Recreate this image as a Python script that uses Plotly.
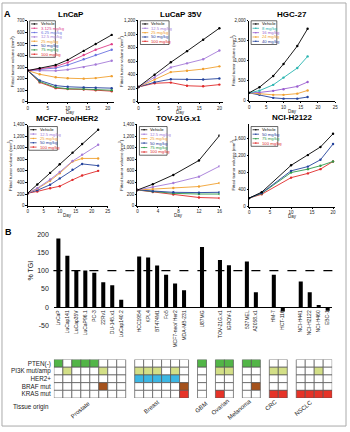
import plotly.graph_objects as go

W, H = 350, 432
def fx(px): return px / W
def fy(py): return 1 - py / H

FONT = "Liberation Sans, Arial, sans-serif"

# ---------------- Panel A data ----------------
lncap_days = [0, 3, 7, 10, 14, 17, 21]
lncap_vehicle = [270, 290, 318, 362, 440, 500, 578]
lncap_3125 = [270, 283, 305, 340, 405, 450, 498]
lncap_625 = [270, 278, 292, 318, 368, 405, 450]
lncap_125 = [270, 268, 268, 278, 300, 322, 355]
lncap_25 = [270, 238, 212, 204, 200, 205, 222]
lncap_50 = [270, 185, 140, 130, 125, 122, 118]
lncap_75 = [270, 175, 125, 113, 110, 106, 100]
lncap_100 = [270, 168, 118, 110, 107, 100, 92]

lucap_days = [0, 4, 8, 12, 16, 20]
lucap_vehicle = [220, 400, 585, 750, 920, 1090]
lucap_125 = [220, 360, 510, 570, 630, 760]
lucap_25 = [220, 330, 440, 460, 485, 525]
lucap_50 = [220, 290, 335, 330, 330, 345]
lucap_100 = [220, 275, 285, 238, 230, 255]

hgc_days = [0, 3, 7, 10, 14, 17]
hgc_vehicle = [200, 340, 620, 920, 1370, 1800]
hgc_8 = [200, 255, 400, 580, 820, 1110]
hgc_16 = [200, 210, 250, 290, 360, 470]
hgc_24 = [200, 175, 150, 150, 180, 260]
hgc_40 = [200, 150, 75, 55, 55, 95]

mcf7_days = [0, 3, 7, 10, 14, 17, 22]
mcf7_vehicle = [215, 365, 565, 715, 915, 1065, 1310]
mcf7_125 = [215, 300, 450, 580, 770, 880, 1050]
mcf7_25 = [215, 290, 430, 560, 760, 815, 815]
mcf7_50 = [215, 265, 360, 470, 620, 720, 690]
mcf7_100 = [215, 245, 300, 335, 445, 520, 600]

tov_days = [0, 3, 7, 12, 16]
tov_vehicle = [270, 370, 530, 780, 1210]
tov_125 = [270, 320, 390, 500, 680]
tov_25 = [270, 285, 305, 330, 390]
tov_50 = [270, 250, 230, 225, 230]
tov_75 = [270, 245, 212, 200, 200]
tov_100 = [270, 235, 190, 140, 130]

h2122_days = [0, 3, 10, 14, 17, 20]
h2122_vehicle = [200, 340, 970, 1210, 1400, 1710]
h2122_50 = [200, 320, 840, 940, 1100, 1470]
h2122_75 = [200, 310, 800, 880, 960, 1060]
h2122_100 = [200, 290, 680, 780, 880, 1060]

# ---------------- Panel B data ----------------
cell_lines = ["LnCaP", "LuCap141", "LuCap35V", "LuCaP96.1", "PC-3", "22Rv1", "DU-145.x1", "LuCap140.2",
              "HCC1954", "KPL4", "BT474M1", "Fo5", "MCF7-neo/ Her2", "MDA-MB-231",
              "U87MG", "TOV-21G.x1", "IGROV-1", "537MEL", "A2058.x1", "HM-7", "HCT-116",
              "NCI-H441", "NCI-H2122", "NCI-H460", "EBC-1"]
tgi_values = [188, 141, 101, 100, 94, 68, 60, 20,
              139, 136, 114, 89, 65, 46,
              165, 129, 115, 125, 41, 89, -12,
              70, 41, 6, -10]
tissue_groups = ["Prostate", "Breast", "GBM", "Ovarian", "Melanoma", "CRC", "NSCLC"]
group_sizes = [8, 6, 1, 2, 2, 2, 4]
tgi_ticks = [-50, 0, 50, 100, 150, 200]
tgi_ticktext = ["-50", "0", "50", "100", "150", "200"]

row_labels = ["PTEN(-)", "PI3K mut/amp", "HER2+", "BRAF mut", "KRAS mut"]
pten = [1, 0, 1, 1, 1, 0, 0, 0, 0, 0, 0, 0, 0, 0, 1, 1, 1, 1, 1, 0, 0, 0, 0, 0, 0]
pi3k = [0, 1, 0, 0, 0, 1, 0, 0, 1, 1, 1, 0, 1, 0, 0, 1, 1, 0, 0, 1, 1, 0, 0, 1, 0]
her2 = [0, 0, 0, 0, 0, 0, 0, 0, 1, 1, 1, 1, 1, 0, 0, 0, 0, 0, 0, 0, 0, 0, 0, 0, 0]
braf = [0, 0, 0, 0, 0, 1, 0, 0, 0, 0, 0, 0, 0, 1, 0, 0, 0, 0, 1, 0, 0, 0, 0, 0, 0]
kras = [0, 0, 0, 0, 0, 0, 0, 0, 0, 0, 0, 0, 0, 1, 0, 1, 0, 0, 0, 1, 1, 1, 1, 1, 1]

# ---------------- styles ----------------
C_VEH = "#000000"
C_3125 = "#e0408a"
C_625 = "#6a72e0"
C_125 = "#a57ad8"
C_25 = "#f0a030"
C_50 = "#24439c"
C_75 = "#2e9a4a"
C_100 = "#e02a2a"
C_8 = "#28b4b0"
C_16 = "#9b5fd0"

panels = [
    dict(title="LnCaP", days=lncap_days,
         series=[("Vehicle", lncap_vehicle, C_VEH), ("3.125 mg/kg", lncap_3125, C_3125),
                 ("6.25 mg/kg", lncap_625, C_625), ("12.5 mg/kg", lncap_125, C_125),
                 ("25 mg/kg", lncap_25, C_25), ("50 mg/kg", lncap_50, C_50),
                 ("75 mg/kg", lncap_75, C_75), ("100 mg/kg", lncap_100, C_100)],
         px=(27, 114), py=(19, 101), xr=[0, 21.5], xt=[0, 5, 10, 15, 20],
         yr=[0, 700], yt=list(range(0, 701, 100)), leg=(29, 19, 55, 56), ytx=12),
    dict(title="LuCaP 35V", days=lucap_days,
         series=[("Vehicle", lucap_vehicle, C_VEH), ("12.5 mg/kg", lucap_125, C_125),
                 ("25 mg/kg", lucap_25, C_25), ("50 mg/kg", lucap_50, C_50),
                 ("100 mg/kg", lucap_100, C_100)],
         px=(139, 225), py=(19, 101), xr=[0, 21], xt=[0, 5, 10, 15, 20],
         yr=[0, 1200], yt=list(range(0, 1201, 200)), leg=(141, 19, 170, 43), ytx=122),
    dict(title="HGC-27", days=hgc_days,
         series=[("Vehicle", hgc_vehicle, C_VEH), ("8 mg/kg", hgc_8, C_8),
                 ("16 mg/kg", hgc_16, C_16), ("24 mg/kg", hgc_24, C_25),
                 ("40 mg/kg", hgc_40, C_50)],
         px=(251, 338), py=(19, 100), xr=[0, 25], xt=[0, 5, 10, 15, 20, 25],
         yr=[0, 2000], yt=list(range(0, 2001, 500)), leg=(253, 19, 279, 43), ytx=235),
    dict(title="MCF7-neo/HER2", days=mcf7_days,
         series=[("Vehicle", mcf7_vehicle, C_VEH), ("12.5 mg/kg", mcf7_125, C_125),
                 ("25 mg/kg", mcf7_25, C_25), ("50 mg/kg", mcf7_50, C_50),
                 ("100 mg/kg", mcf7_100, C_100)],
         px=(27, 108), py=(124, 206), xr=[0, 25], xt=[0, 5, 10, 15, 20, 25],
         yr=[0, 1400], yt=list(range(0, 1401, 200)), leg=(28, 126, 57, 150), ytx=9),
    dict(title="TOV-21G.x1", days=tov_days,
         series=[("Vehicle", tov_vehicle, C_VEH), ("12.5 mg/kg", tov_125, C_125),
                 ("25 mg/kg", tov_25, C_25), ("50 mg/kg", tov_50, C_50),
                 ("75 mg/kg", tov_75, C_75), ("100 mg/kg", tov_100, C_100)],
         px=(138, 221), py=(124, 206), xr=[0, 16], xt=[0, 4, 8, 12, 16],
         yr=[0, 1400], yt=list(range(0, 1401, 200)), leg=(140, 126, 168, 155), ytx=122),
    dict(title="NCI-H2122", days=h2122_days,
         series=[("Vehicle", h2122_vehicle, C_VEH), ("50 mg/kg", h2122_50, C_50),
                 ("75 mg/kg", h2122_75, C_75), ("100 mg/kg", h2122_100, C_100)],
         px=(251, 338), py=(123, 207), xr=[0, 20.5], xt=[0, 5, 10, 15, 20],
         yr=[0, 1950], yt=list(range(0, 1601, 400)), leg=(253, 126, 280, 146), ytx=235),
]

fig = go.Figure()
layout = {}
annotations = []
shapes = []

def ann(x, y, text, size, color="#222", xanchor="center", yanchor="middle", angle=0, bold=False):
    annotations.append(dict(x=fx(x), y=fy(y), xref="paper", yref="paper", showarrow=False,
                            text=("<b>%s</b>" % text) if bold else text, textangle=angle,
                            xanchor=xanchor, yanchor=yanchor,
                            font=dict(family=FONT, size=size, color=color)))

for i, p in enumerate(panels, start=1):
    xa = "x" if i == 1 else "x%d" % i
    ya = "y" if i == 1 else "y%d" % i
    xk = "xaxis" if i == 1 else "xaxis%d" % i
    yk = "yaxis" if i == 1 else "yaxis%d" % i
    for name, vals, col in reversed(p["series"]):
        fig.add_trace(go.Scatter(x=p["days"], y=vals, mode="lines+markers", name=name,
                                 line=dict(color=col, width=0.9),
                                 marker=dict(size=2.4, color=col),
                                 xaxis=xa, yaxis=ya, showlegend=False, hoverinfo="skip"))
    common = dict(showline=True, linecolor="#000", linewidth=0.7, ticks="outside", ticklen=1.5,
                  tickwidth=0.6, tickcolor="#000", showgrid=False, zeroline=False,
                  tickfont=dict(family=FONT, size=4.5, color="#222"), tickformat=",d")
    layout[xk] = dict(common, domain=[fx(p["px"][0]), fx(p["px"][1])], range=p["xr"],
                      tickvals=p["xt"], anchor=ya)
    layout[yk] = dict(common, domain=[fy(p["py"][1]), fy(p["py"][0])], range=p["yr"],
                      tickvals=p["yt"], anchor=xa)
    cx = (p["px"][0] + p["px"][1]) / 2
    ann(cx, p["py"][0] - 6, p["title"], 8, "#000", bold=True)
    ann(cx, p["py"][1] + 10.5, "Day", 4.5)
    ann(p["ytx"], (p["py"][0] + p["py"][1]) / 2, "Fitted tumor volume (mm<sup>3</sup>)", 4.3, angle=-90)
    # manual legend
    lx0, ly0, lx1, ly1 = p["leg"]
    shapes.append(dict(type="rect", xref="paper", yref="paper", x0=fx(lx0), x1=fx(lx1),
                       y0=fy(ly0), y1=fy(ly1), line=dict(color="#000", width=0.6)))
    n = len(p["series"])
    step = (ly1 - ly0 - 2) / n
    for k, (name, vals, col) in enumerate(p["series"]):
        yy = ly0 + 1 + step * (k + 0.5)
        shapes.append(dict(type="line", xref="paper", yref="paper", x0=fx(lx0 + 1.5), x1=fx(lx0 + 8),
                           y0=fy(yy), y1=fy(yy), line=dict(color=col, width=0.8)))
        shapes.append(dict(type="circle", xref="paper", yref="paper", x0=fx(lx0 + 4.0), x1=fx(lx0 + 5.5),
                           y0=fy(yy + 0.75), y1=fy(yy - 0.75), fillcolor=col, line=dict(width=0)))
        ann(lx0 + 9, yy, name, 4.2, col, xanchor="left")

ann(7, 12, "A", 9, "#000", bold=True)

# ---------------- Panel B ----------------
positions = []
s = 0
for g in group_sizes:
    for j in range(g):
        positions.append(s)
        s += 1
    s += 1

fig.add_trace(go.Bar(x=positions, y=tgi_values, width=0.45, marker=dict(color="#000", line=dict(width=0)),
                     xaxis="x7", yaxis="y7", showlegend=False, hoverinfo="skip"))

BX0, BX1 = 53.5, 335
layout["xaxis7"] = dict(domain=[fx(BX0), fx(BX1)], range=[-0.5, 30.5], anchor="free", position=fy(309),
                        showline=True, linecolor="#000", linewidth=0.8, ticks="", showgrid=False,
                        zeroline=False, tickvals=positions, ticktext=cell_lines, tickangle=-90,
                        tickfont=dict(family=FONT, size=5, color="#222"))
layout["yaxis7"] = dict(domain=[fy(329), fy(233)], range=[-55, 205], anchor="x7", showline=False,
                        ticks="", showgrid=False, zeroline=False, tickvals=tgi_ticks, ticktext=tgi_ticktext,
                        tickfont=dict(family=FONT, size=7, color="#222"), ticklabelstandoff=4)
shapes.append(dict(type="line", xref="paper", yref="y7", x0=fx(53), x1=fx(340), y0=100, y1=100,
                   line=dict(color="#000", width=1.4, dash="dash")))
ann(30, 272, "% TGI", 7, angle=-90)
ann(8, 233, "B", 9, "#000", bold=True)

# grid of genetic features
status_rows = [pten, pi3k, her2, braf, kras]
row_colors = ["#52b547", "#d3df87", "#3cb7e4", "#a5521c", "#e63328"]
gx, gy, gc = [], [], []
for r, row in enumerate(status_rows):
    for j, v in enumerate(row):
        gx.append(positions[j])
        gy.append(r)
        gc.append(row_colors[r] if v else "#ffffff")
fig.add_trace(go.Bar(x=gx, y=[1] * len(gx), base=gy, width=1,
                     marker=dict(color=gc, line=dict(color="#555", width=0.7)),
                     xaxis="x8", yaxis="y8", showlegend=False, hoverinfo="skip"))
layout["xaxis8"] = dict(domain=[fx(BX0), fx(BX1)], range=[-0.5, 30.5], anchor="y8", visible=False)
layout["yaxis8"] = dict(domain=[fy(400.7), fy(361.7)], range=[5, 0], anchor="x8", showline=False,
                        ticks="", showgrid=False, zeroline=False,
                        tickvals=[0.5, 1.5, 2.5, 3.5, 4.5], ticktext=row_labels,
                        tickfont=dict(family=FONT, size=6.3, color="#222"), ticklabelstandoff=2)

group_label_px = [(80, 412.7), (152.3, 410), (202.7, 409.3), (221.7, 410), (241.7, 411.7), (273.3, 407.3), (306, 410.7)]
for name, (gxp, gyp) in zip(tissue_groups, group_label_px):
    ann(gxp, gyp, name, 6, angle=-40)
ann(30, 410, "Tissue origin", 6.3)

# outer frame
shapes.append(dict(type="rect", xref="paper", yref="paper", x0=fx(1), x1=fx(349), y0=fy(429), y1=fy(1),
                   line=dict(color="#aaa", width=1)))

fig.update_layout(width=W, height=H, margin=dict(l=0, r=0, t=0, b=0), paper_bgcolor="white",
                  plot_bgcolor="rgba(0,0,0,0)", showlegend=False, barmode="overlay",
                  annotations=annotations, shapes=shapes, font=dict(family=FONT), **layout)
fig.write_html("out.html")
